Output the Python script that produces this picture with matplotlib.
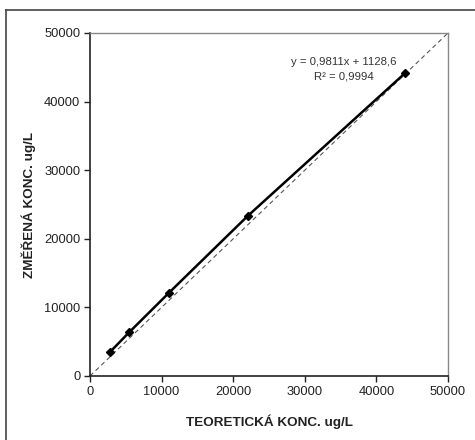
import matplotlib
matplotlib.use("Agg")
import matplotlib.pyplot as plt
from matplotlib.lines import Line2D

plt.rcParams['font.family'] = ['Liberation Sans', 'DejaVu Sans']

x_theor = [2750, 5500, 11000, 22000, 44000]
y_meas = [3450, 6400, 12100, 23300, 44150]
diag = [0, 50000]
ticks = [0, 10000, 20000, 30000, 40000, 50000]
eq_text = "y = 0,9811x + 1128,6"
r2_text = "R² = 0,9994"

fig = plt.figure(figsize=(4.75, 4.4), dpi=100)
ax = fig.add_axes([90/475, 1-376/440, 358/475, 343/440])

ax.plot(diag, diag, color='#555555', linestyle=(0, (4, 3)), linewidth=0.8)
ax.plot(x_theor, y_meas, color='black', linewidth=1.8, marker='D', markersize=4,
        markerfacecolor='black')

ax.set_xlim(0, 50000)
ax.set_ylim(0, 50000)
ax.set_xticks(ticks)
ax.set_yticks(ticks)
ax.tick_params(direction='out', length=4, width=1, labelsize=9.3, colors='#222222', pad=3)
for s in ['left', 'bottom']:
    ax.spines[s].set_color('#222222')
    ax.spines[s].set_linewidth(1.2)
for s in ['top', 'right']:
    ax.spines[s].set_color('#888888')
    ax.spines[s].set_linewidth(1.0)

ax.set_xlabel("TEORETICKÁ KONC. ug/L", fontsize=9.7, fontweight='bold', color='#222222', labelpad=12)
ax.set_ylabel("ZMĚŘENÁ KONC. ug/L", fontsize=9.7, fontweight='bold', color='#222222', labelpad=6)

ax.text(0.708, 0.915, eq_text, transform=ax.transAxes, ha='center', va='center', fontsize=8.2, color='#333333')
ax.text(0.708, 0.872, r2_text, transform=ax.transAxes, ha='center', va='center', fontsize=8.2, color='#333333')

# outer frame (top and left edges)
fig.add_artist(Line2D([6/475, 1], [1-10/440, 1-10/440], transform=fig.transFigure, color='#444444', linewidth=1.2))
fig.add_artist(Line2D([6/475, 6/475], [0, 1-10/440], transform=fig.transFigure, color='#444444', linewidth=1.2))

fig.savefig("out.png", dpi=100)
